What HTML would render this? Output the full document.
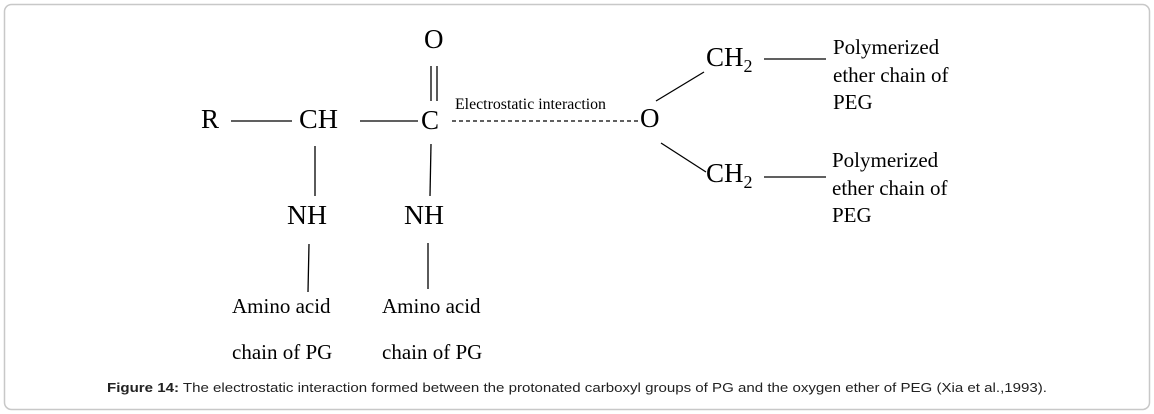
<!DOCTYPE html>
<html><head><meta charset="utf-8"><style>
html,body{margin:0;padding:0;background:#fff;}
svg{display:block;}
</style></head><body>
<svg width="1154" height="414" xmlns="http://www.w3.org/2000/svg">
<rect x="4.5" y="4.5" width="1145" height="405" rx="7" fill="#fff" stroke="#c8c8c8" stroke-width="1.5"/>
<g font-family="Liberation Serif, serif" fill="#000">
<text x="201" y="128" font-size="27">R</text>
<text x="299" y="128" font-size="27" textLength="39" lengthAdjust="spacingAndGlyphs">CH</text>
<text x="421" y="129" font-size="27">C</text>
<text x="424" y="48" font-size="27">O</text>
<text x="640" y="127" font-size="27">O</text>
<text x="455" y="109" font-size="15.5" textLength="151" lengthAdjust="spacingAndGlyphs">Electrostatic interaction</text>
<text x="706" y="66" font-size="27">CH<tspan font-size="18" dy="6">2</tspan></text>
<text x="706" y="182" font-size="27">CH<tspan font-size="18" dy="6">2</tspan></text>
<text x="287" y="224" font-size="27" textLength="40" lengthAdjust="spacingAndGlyphs">NH</text>
<text x="404" y="224" font-size="27" textLength="40" lengthAdjust="spacingAndGlyphs">NH</text>
<g font-size="21">
<text x="833" y="54">Polymerized</text>
<text x="833" y="82">ether chain of</text>
<text x="833" y="109">PEG</text>
<text x="832" y="167">Polymerized</text>
<text x="832" y="195">ether chain of</text>
<text x="832" y="222">PEG</text>
<text x="232" y="313">Amino acid</text>
<text x="232" y="359">chain of PG</text>
<text x="382" y="313">Amino acid</text>
<text x="382" y="359">chain of PG</text>
</g>
</g>
<g stroke="#000" stroke-width="1.3" fill="none">
<line x1="231" y1="121" x2="292" y2="121"/>
<line x1="360" y1="121" x2="418" y2="121"/>
<line x1="431" y1="66" x2="431" y2="101"/>
<line x1="437" y1="66" x2="437" y2="101"/>
<line x1="452" y1="121" x2="638" y2="121" stroke-dasharray="4,3"/>
<line x1="656" y1="101" x2="704" y2="72"/>
<line x1="661" y1="143" x2="706" y2="172"/>
<line x1="764" y1="59" x2="826" y2="59"/>
<line x1="764" y1="177" x2="826" y2="177"/>
<line x1="315" y1="146" x2="315" y2="196"/>
<line x1="431" y1="144" x2="430" y2="196"/>
<line x1="309" y1="244" x2="308" y2="292"/>
<line x1="428" y1="243" x2="428" y2="289"/>
</g>
<text x="107" y="392" font-family="Liberation Sans, sans-serif" font-size="13" fill="#222" textLength="940" lengthAdjust="spacingAndGlyphs"><tspan font-weight="bold">Figure 14:</tspan> The electrostatic interaction formed between the protonated carboxyl groups of PG and the oxygen ether of PEG (Xia et al.,1993).</text>
</svg>
</body></html>
